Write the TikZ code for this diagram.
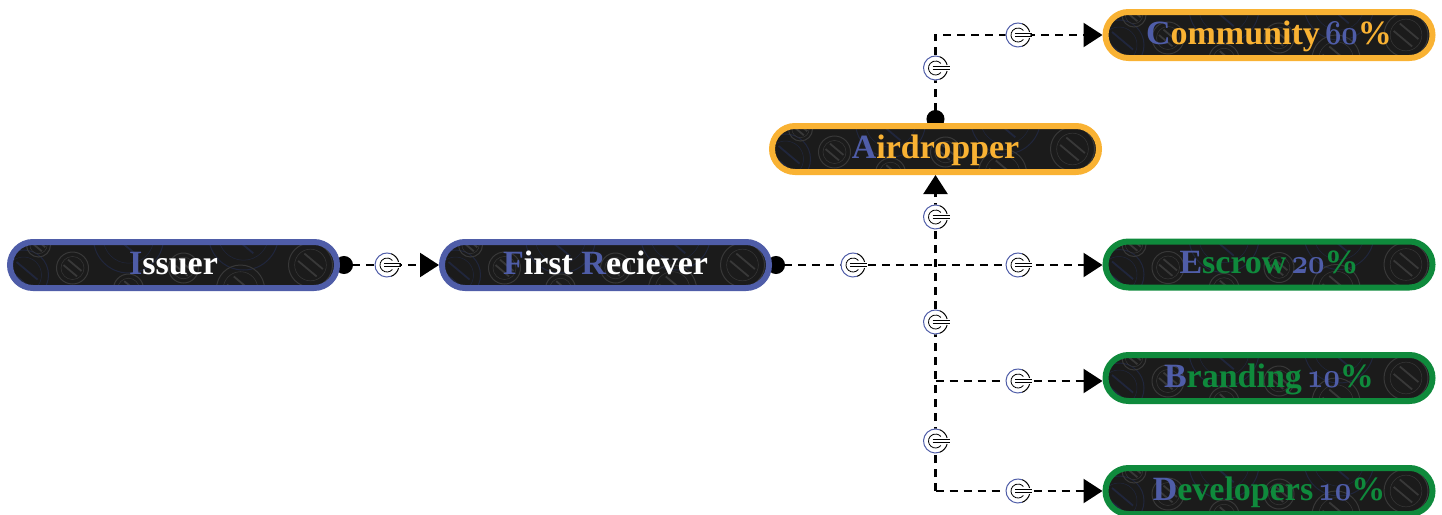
\documentclass[tikz,border=0pt]{standalone}
\usepackage{fontspec}
\setmainfont{Liberation Serif}
\usetikzlibrary{arrows.meta,backgrounds}

\definecolor{pillblue}{HTML}{4F5DA8}
\definecolor{pillorange}{HTML}{F9B233}
\definecolor{pillgreen}{HTML}{0F8A3C}
\definecolor{pilldark}{HTML}{1B1B1B}
\definecolor{plategrey}{HTML}{383838}
\definecolor{platenavy}{HTML}{20263C}

% one plate of the backdrop: x, y, radius, colour
\newcommand{\plateicon}[4]{
  \coordinate (plate) at ([shift={(#1,#2)}]path picture bounding box.center);
  \draw [#4, line width=1pt] (plate) circle (#3);
  \draw [#4, line width=.5pt] (plate) circle ({.72*#3});
  \draw [#4, line width=1.8pt] (plate) ++(130:{.22*#3}) ++(40:{-.55*#3}) to ++(40:{1.1*#3});
  \draw [#4, line width=1.8pt] (plate) ++(130:{-.22*#3}) ++(40:{-.55*#3}) to ++(40:{1.1*#3});
}
\newcommand{\platepattern}{
  \plateicon{-150}{10}{25}{platenavy}
  \plateicon{-135}{-20}{12}{plategrey}
  \plateicon{-101}{3}{16}{plategrey}
  \plateicon{-45}{-27}{35}{platenavy}
  \plateicon{-45}{24}{15}{plategrey}
  \plateicon{10}{3}{15}{plategrey}
  \plateicon{70}{-30}{35}{platenavy}
  \plateicon{67}{24}{24}{plategrey}
  \plateicon{137}{0}{22}{plategrey}
}
% letter in the accent colour, numbers in old style
\newcommand{\hl}[1]{\textcolor{pillblue}{#1}}
\newcommand{\nums}[1]{\hspace{-.1em}\textcolor{pillblue}{\scalebox{1.15}[1.4]{\fontencoding{OML}\fontfamily{cmm}\fontseries{b}\fontshape{it}\fontsize{32}{32}\selectfont #1}}}
% connector badge: named node plus its drawing
\newcommand{\logonode}[2]{
  \node [logo] (#1) at (#2) {};
  \pic at (#1) {platelogo};
}

\tikzset{
  pill/.style={draw=#1, line width=6pt, fill=pilldark, rounded corners=23pt,
    minimum width=327pt, minimum height=46pt, inner sep=0pt,
    text height=25pt, text depth=7pt,
    font=\fontsize{34}{34}\bfseries, path picture={\platepattern}},
  logo/.style={circle, fill=white, minimum size=25pt, inner sep=0pt},
  flow/.style={line width=2.3pt, black, dash pattern=on 8pt off 6pt},
  tipend/.style={-{Triangle[length=19pt,width=24pt]}},
  tipboth/.style={{Circle[length=18pt,width=18pt]}-{Triangle[length=19pt,width=24pt]}, shorten <=-5pt},
  platelogo/.pic={
    \draw [pillblue, line width=1pt] (70:12) arc (70:290:12);
    \draw [black, line width=1pt] (-70:12) arc (-70:-15:12);
    \draw [black, line width=1pt] (70:12) arc (70:15:12);
    \draw [black, line width=.8pt] (40:7) arc (40:320:7);
    \draw [black, line width=1.2pt] (-3,-1.7) to (14,-1.7);
    \draw [black, line width=1.2pt] (-3,1.7) to (14,1.7);
  }
}

\begin{document}
\begin{tikzpicture}[x=1pt,y=-1pt]
  \useasboundingbox (0,0) rectangle (1442,514);

  \node [pill=pillblue, text=white] (issuer) at (173.5,265) {\hl{I}ssuer};
  \node [pill=pillblue, text=white] (first) at (605.5,265) {\hl{F}irst \hl{R}eciever};
  \node [pill=pillorange, text=pillorange] (airdropper) at (935.5,149) {\hl{A}irdropper};
  \node [pill=pillorange, text=pillorange] (community) at (1269,35) {\hl{C}ommunity \nums{60}\%};
  \node [pill=pillgreen, text=pillgreen] (escrow) at (1269,264.5) {\hl{E}scrow \nums{20}\%};
  \node [pill=pillgreen, text=pillgreen] (branding) at (1269,378) {\hl{B}randing \nums{10}\%};
  \node [pill=pillgreen, text=pillgreen] (developers) at (1269,491) {\hl{D}evelopers \nums{10}\%};

  \coordinate (brandingtap) at (935.5,381);
  \coordinate (devtap) at (airdropper.south |- developers.west);

  \logonode{logoissuer}{387,265}
  \logonode{logofirst}{853,265}
  \logonode{logoescrow}{1018,265}
  \logonode{logoair}{935.5,217}
  \logonode{logotop}{935.5,68}
  \logonode{logocommunity}{1018,35}
  \logonode{logobus}{935.5,322}
  \logonode{logobranding}{1018,381}
  \logonode{logolow}{935.5,441}
  \logonode{logodev}{1018,491}

  \begin{scope}[on background layer]
    \draw [flow, tipboth] (issuer.east) to (first.west);
    \draw [flow, tipboth] (first.east) to (first.east -| escrow.west);
    \draw [flow, tipboth] (airdropper.north) |- (community.west);
    \draw [flow, tipend] (devtap) to (airdropper.south);
    \draw [flow, tipend] (brandingtap) to (brandingtap -| branding.west);
    \draw [flow, tipend] (devtap) to (developers.west);
  \end{scope}
\end{tikzpicture}
\end{document}
